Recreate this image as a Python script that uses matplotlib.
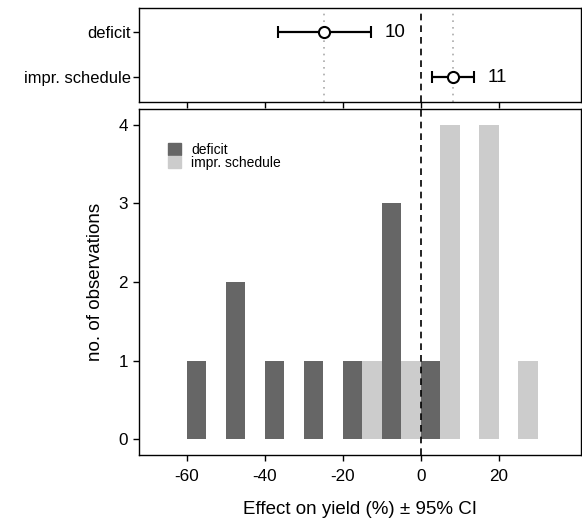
import numpy as np
import matplotlib
matplotlib.use("Agg")
import matplotlib.pyplot as plt
from matplotlib.patches import Patch

plt.rcParams['font.family'] = ['Liberation Sans', 'DejaVu Sans']
plt.rcParams['axes.unicode_minus'] = False

# summary effects (top panel)
groups = ["deficit", "impr. schedule"]
means = [-24.7, 8.2]
ci_lo = [-36.6, 3.0]
ci_hi = [-12.7, 13.6]
n_obs = [10, 11]

# histogram counts (bottom panel), bins of width 10
bin_left = [-60, -50, -40, -30, -20, -10, 0, 10, 20]
deficit_counts = [1, 2, 1, 1, 1, 3, 1, 0, 0]
impr_counts = [0, 0, 0, 0, 1, 1, 4, 4, 1]

dark = "#666666"
light = "#cccccc"
xlim = (-72.2, 41.1)

fig = plt.figure(figsize=(5.82, 5.2), dpi=100)
ax_top = fig.add_axes([0.2388, 0.8038, 0.7595, 0.1817])
ax_bot = fig.add_axes([0.2388, 0.125, 0.7595, 0.6654])

# top panel: mean +- CI
ypos = [2, 1]
for m in means:
    ax_top.axvline(m, color="#aaaaaa", ls=(0, (1, 3)), lw=1.2, zorder=1)
ax_top.axvline(0, color="black", ls=(0, (4, 3)), lw=1.2, zorder=1)
for y, m, lo, hi, n in zip(ypos, means, ci_lo, ci_hi, n_obs):
    ax_top.errorbar(m, y, xerr=[[m - lo], [hi - m]], fmt="o", color="black",
                    mfc="white", mec="black", mew=1.5, ms=8, elinewidth=1.6,
                    capsize=4, capthick=1.6, zorder=3)
    ax_top.text(hi + 3.5, y, str(n), ha="left", va="center", fontsize=13.5)
ax_top.set_xlim(*xlim)
ax_top.set_ylim(0.45, 2.55)
ax_top.set_yticks(ypos)
ax_top.set_yticklabels(groups, fontsize=11.9)
ax_top.set_xticks([-60, -40, -20, 0, 20])
ax_top.set_xticklabels([])

# bottom panel: dodged histogram
ax_bot.bar(np.array(bin_left), deficit_counts, width=5, align="edge",
           color=dark, zorder=2)
ax_bot.bar(np.array(bin_left) + 5, impr_counts, width=5, align="edge",
           color=light, zorder=2)
ax_bot.axvline(0, color="black", ls=(0, (4, 3)), lw=1.2, zorder=3)
ax_bot.set_xlim(*xlim)
ax_bot.set_ylim(-0.2, 4.2)
ax_bot.set_xticks([-60, -40, -20, 0, 20])
ax_bot.set_yticks([0, 1, 2, 3, 4])
ax_bot.tick_params(labelsize=12.3)
ax_bot.set_xlabel("Effect on yield (%) ± 95% CI", fontsize=13.5, labelpad=12)
ax_bot.set_ylabel("no. of observations", fontsize=13.5, labelpad=10)

handles = [Patch(color=dark, label="deficit"),
           Patch(color=light, label="impr. schedule")]
ax_bot.legend(handles=handles, loc="upper left", bbox_to_anchor=(0.066, 0.902),
              frameon=False, fontsize=10, handlelength=0.96, handleheight=0.96,
              labelspacing=-0.1, handletextpad=0.7, borderpad=0,
              borderaxespad=0)

for ax in (ax_top, ax_bot):
    for s in ax.spines.values():
        s.set_linewidth(1.0)
        s.set_color("black")
    ax.tick_params(direction="out", length=4, width=1.0, color="black",
                   labelcolor="black", pad=4)
ax_top.tick_params(axis="y", pad=2)
ax_bot.tick_params(axis="x", pad=6)

fig.savefig("out.png", dpi=100)
